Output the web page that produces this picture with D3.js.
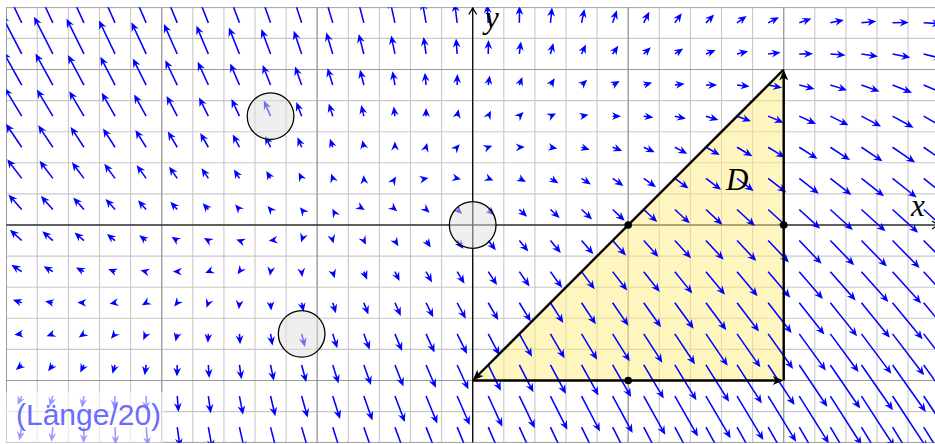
<!DOCTYPE html>
<html>
<head>
<meta charset="utf-8">
<script src="https://cdn.jsdelivr.net/npm/d3@7"></script>
<style>
  html, body { margin: 0; padding: 0; background: #fff; }
  svg { display: block; }
</style>
</head>
<body>
<div id="chart"></div>
<script>
// Field arrows: [x, y, P, Q] (P, Q = full vector, arrows are drawn at length/20)
const fieldSamples = [
  [0.1,1.3,0,2.1],[0.3,1.3,0,2.0],[0.5,1.3,0.2,2.0],[0.7,1.3,0.4,1.7],[0.9,1.3,0.64,1.5],[1.1,1.3,0.64,1.5],
  [1.3,1.3,0.86,1.3],[1.5,1.3,1.07,1.2],[1.7,1.3,1.2,0.99],[1.9,1.3,1.41,0.86],[2.1,1.3,1.63,0.69],
  [2.3,1.3,1.8,0.47],[2.5,1.3,1.84,0.43],[2.7,1.3,2.14,0.13],
  [-2.7,1.1,-2.57,4.72],[-2.3,1.1,-2.14,4.29],[-1.9,1.1,-1.71,3.94],[-1.3,1.1,-0.94,3.2],[-0.9,1.1,-0.86,2.79],
  [-0.5,1.1,-0.56,2.23],[-0.1,1.1,0,2.23],[0.1,1.1,0,1.93],[0.3,1.1,0,1.29],[0.5,1.1,0.2,1.3],[0.7,1.1,0.3,1.0],
  [0.9,1.1,0.64,1.07],[1.5,1.1,1.2,0.6],[1.7,1.1,1.41,0.34],[1.9,1.1,1.63,0.21],[2.1,1.1,1.93,0],
  [2.3,1.1,2.0,-0.09],[2.5,1.1,2.27,-0.21],[2.7,1.1,2.36,-0.43],
  [-2.7,0.9,-2.36,4.07],[-2.5,0.9,-2.14,3.86],[-2.3,0.9,-1.93,3.64],[-2.1,0.9,-1.71,3.43],[-1.9,0.9,-1.5,3.2],
  [-1.7,0.9,-1.29,3.0],[-1.5,0.9,-1.29,2.79],[-1.3,0.9,-0.86,2.57],[-1.1,0.9,-0.86,2.36],[-0.9,0.9,-0.64,2.14],
  [-0.7,0.9,-0.2,1.93],[-0.5,0.9,-0.2,1.93],[-0.3,0.9,0,1.71],[-0.1,0.9,0,1.5],[0.1,0.9,0,1.07],
  [0.9,0.9,-0.2,-0.2],[1.3,0.9,0.8,-0.1],[1.5,0.9,1.5,-0.2],[1.7,0.9,1.71,-0.34],[2.1,0.9,1.93,-0.43],
  [2.3,0.9,2.23,-0.64],[2.5,0.9,2.49,-0.86],[2.7,0.9,2.57,-0.99],
  [-2.7,0.7,-2.0,3.47],[-2.5,0.7,-1.71,3.26],[-2.3,0.7,-1.63,3.04],[-2.1,0.7,-1.33,2.83],[-1.9,0.7,-1.29,2.61],
  [-1.7,0.7,-1.11,2.53],[-1.5,0.7,-0.9,2.4],[-1.3,0.7,-0.64,1.97],[-1.1,0.7,-0.56,1.76],[-0.9,0.7,-0.26,1.76],
  [-0.7,0.7,-0.17,1.54],[-0.5,0.7,-0.13,1.41],[-0.3,0.7,-0.04,1.33],[-0.1,0.7,0.04,1.11],
  [0.9,0.7,0.86,-0.2],[1.1,0.7,1.07,-0.3],[1.3,0.7,1.07,-0.43],[1.5,0.7,1.71,-0.56],[1.7,0.7,1.71,-0.64],
  [1.9,0.7,1.84,-0.86],[2.1,0.7,2.14,-1.07],[2.3,0.7,2.44,-1.29],[2.5,0.7,2.7,-1.41],[2.7,0.7,2.79,-1.71],
  [-2.9,0.5,-1.93,2.79],[-2.7,0.5,-2.14,2.9],[-2.5,0.5,-1.71,2.66],[-2.3,0.5,-1.71,2.57],[-2.1,0.5,-1.5,2.36],
  [-1.9,0.5,-1.29,2.14],[-1.7,0.5,-1.07,1.93],[-1.5,0.5,-0.86,1.71],[-1.3,0.5,-0.56,1.29],[-1.1,0.5,-0.43,1.29],
  [-0.9,0.5,-0.2,1.07],[-0.7,0.5,-0.2,0.86],[-0.5,0.5,0,0.64],[-0.1,0.5,-0.4,0.2],
  [0.3,0.5,1.07,0],[0.5,0.5,1.07,-0.2],[0.7,0.5,1.07,-0.34],[0.9,0.5,1.07,-0.43],[1.1,0.5,1.5,-0.64],
  [1.3,0.5,1.5,-0.86],[1.5,0.5,1.71,-1.07],[1.7,0.5,1.93,-1.2],[1.9,0.5,2.36,-1.29],[2.1,0.5,2.36,-1.5],
  [2.3,0.5,2.36,-1.71],[2.5,0.5,2.79,-1.93],[2.7,0.5,3.0,-2.14],
  [-2.9,0.3,-1.93,2.36],[-0.1,0.3,1.07,0],[0.1,0.3,1.07,0],[0.3,0.3,0.86,-0.43],[0.5,0.3,1.07,-0.56],
  [0.7,0.3,1.29,-0.77],[0.9,0.3,1.5,-0.86],[1.1,0.3,1.71,-1.07],[1.3,0.3,1.93,-1.29],[1.5,0.3,1.93,-1.41],
  [1.7,0.3,2.14,-1.71],[1.9,0.3,2.57,-1.71],[2.1,0.3,2.36,-1.93],[2.3,0.3,2.57,-2.14],[2.5,0.3,2.79,-2.36],
  [2.7,0.3,3.0,-2.36],
  [-2.9,0.1,-1.71,1.84],[-2.7,0.1,-1.71,1.84],[-2.5,0.1,-1.5,1.5],[-2.3,0.1,-1.29,1.2],[-2.1,0.1,-1.07,0.86],
  [-1.9,0.1,-0.64,0.64],[0.3,0.1,1.07,-0.86],[0.5,0.1,1.07,-1.07],[0.7,0.1,1.29,-1.07],[0.9,0.1,1.71,-1.29],
  [1.1,0.1,1.71,-1.5],[1.9,0.1,2.79,-2.14],[2.7,0.1,3.2,-2.8],
  [-2.9,-0.1,-1.71,1.37],[-2.7,-0.1,-1.5,1.07],[-2.5,-0.1,-1.2,0.94],[-2.3,-0.1,-1.07,0.77],[-1.3,-0.1,-0.86,0],
  [0.1,-0.1,0.86,-1.07],[0.3,-0.1,1.29,-1.29],[0.5,-0.1,1.29,-1.5],[0.7,-0.1,1.5,-1.71],[0.9,-0.1,1.71,-1.71],
  [1.1,-0.1,1.71,-1.93],[1.3,-0.1,1.93,-1.93],[1.5,-0.1,2.14,-2.36],[1.7,-0.1,2.36,-2.57],[1.9,-0.1,2.79,-2.57],
  [2.1,-0.1,2.79,-3.0],[2.3,-0.1,3.0,-3.0],[2.5,-0.1,3.2,-3.2],[2.7,-0.1,3.43,-3.64],
  [-2.9,-0.3,-1.29,0.86],[-2.7,-0.3,-1.07,0.64],[-2.5,-0.3,-0.86,0.3],[-0.3,-0.3,0.64,-1.07],[-0.1,-0.3,0.64,-1.29],
  [0.1,-0.3,1.29,-1.71],[0.3,-0.3,1.5,-1.93],[0.5,-0.3,1.71,-2.36],[0.7,-0.3,1.71,-2.36],[0.9,-0.3,1.93,-2.57],
  [1.1,-0.3,2.14,-2.79],[1.3,-0.3,2.36,-3.0],[1.7,-0.3,2.57,-3.43],[2.3,-0.3,3.0,-3.86],
  [-2.9,-0.5,-1.29,0.43],[-2.7,-0.5,-1.07,0.2],[-2.5,-0.5,-0.64,0.1],[-1.1,-0.5,0.2,-1.5],[-0.9,-0.5,0.2,-1.29],
  [-0.7,-0.5,0.43,-1.5],[-0.5,-0.5,0.64,-1.71],[-0.3,-0.5,0.86,-1.93],[-0.1,-0.5,1.07,-2.14],[0.1,-0.5,1.5,-2.36],
  [0.5,-0.5,1.71,-2.57],[0.9,-0.5,2.36,-3.2],[1.3,-0.5,2.57,-3.43],[1.9,-0.5,3.2,-4.07],[2.3,-0.5,3.43,-4.5],
  [2.7,-0.5,3.64,-4.71],
  [-2.9,-0.7,-1.07,0],[-1.9,-0.7,0,-1.07],[-1.7,-0.7,0,-1.07],[-1.5,-0.7,0,-1.29],[-1.1,-0.7,0.43,-1.71],
  [-0.9,-0.7,0.64,-1.71],[-0.7,-0.7,0.64,-2.14],[-0.5,-0.7,0.86,-2.36],[-0.3,-0.7,1.07,-2.57],[-0.1,-0.7,1.2,-2.36],
  [0.1,-0.7,1.5,-2.79],[0.5,-0.7,1.93,-3.2],[0.9,-0.7,2.36,-3.64],[1.3,-0.7,2.79,-3.86],[1.9,-0.7,3.2,-4.71],
  [2.3,-0.7,3.64,-4.93],[2.7,-0.7,3.86,-5.36],
  [-2.3,-0.9,0,-1.07],[-2.1,-0.9,0,-1.29],[-1.9,-0.9,0.1,-1.5],[-1.7,-0.9,0.13,-1.6],[-1.5,-0.9,0.2,-1.8],
  [-1.3,-0.9,0.3,-2.2],[-1.1,-0.9,0.43,-2.2],[-0.9,-0.9,0.86,-2.44],[-0.7,-0.9,0.64,-2.66],[-0.5,-0.9,0.86,-2.66],
  [-0.3,-0.9,1.07,-2.66],[-0.1,-0.9,1.29,-2.66],[0.1,-0.9,1.71,-3.43],[0.5,-0.9,2.14,-3.73],[0.9,-0.9,2.57,-3.86],
  [1.3,-0.9,3.0,-4.37],[1.9,-0.9,3.64,-5.2],[2.3,-0.9,3.86,-5.66],[2.7,-0.9,4.07,-5.87],
  [-2.9,-1.1,-0.43,-1.07],[-2.5,-1.1,0,-1.07],[-2.3,-1.1,0,-1.46],[-1.9,-1.1,0.2,-2.1],[-1.7,-1.1,0.3,-2.36],
  [-1.5,-1.1,0.34,-2.53],[-1.3,-1.1,0.43,-2.74],[-1.1,-1.1,0.64,-2.96],[-0.9,-1.1,0.86,-3.2],[-0.7,-1.1,0.86,-3.4],
  [-0.5,-1.1,1.07,-3.4],[-0.3,-1.1,1.29,-3.8],[0.1,-1.1,1.93,-3.8],[0.5,-1.1,2.14,-4.24],[0.9,-1.1,2.57,-4.67],
  [1.3,-1.1,3.2,-5.1]
];

const circleCenters = [[-1.3, 0.7], [0, 0], [-1.1, -0.7]];
const circleRadius = 0.15;
const regionD = [[0, -1], [2, -1], [2, 1]];
const edgeMidpoints = [[1, 0], [2, 0], [1, -1]];
const lengthLabel = '(Länge/20)';
const arrowScale = 1 / 20;

const width = 935, height = 444;
const xScale = d3.scaleLinear([-3, 3], [6.2, 939.2]);
const yScale = d3.scaleLinear([-1.4, 1.4], [442.7, 7.3]);

// least squares fit of a cubic polynomial to the sampled arrows
const basis = (x, y) => [1, x, y, x * x, x * y, y * y, x * x * x, x * x * y, x * y * y, y * y * y];
function fitComponent(k) {
    const n = 10;
    const M = d3.range(n).map(() => new Array(n + 1).fill(0));
    fieldSamples.forEach(s => {
        const b = basis(s[0], s[1]);
        for (let i = 0; i < n; i++) {
            for (let j = 0; j < n; j++) M[i][j] += b[i] * b[j];
            M[i][n] += b[i] * s[k];
        }
    });
    for (let c = 0; c < n; c++) {
        let p = c;
        for (let r = c + 1; r < n; r++) if (Math.abs(M[r][c]) > Math.abs(M[p][c])) p = r;
        [M[c], M[p]] = [M[p], M[c]];
        for (let r = 0; r < n; r++) {
            if (r === c) continue;
            const f = M[r][c] / M[c][c];
            for (let j = c; j <= n; j++) M[r][j] -= f * M[c][j];
        }
    }
    return M.map((row, i) => row[n] / row[i]);
}
const coefP = fitComponent(2), coefQ = fitComponent(3);
const field = (x, y) => {
    const b = basis(x, y);
    return [d3.sum(b, (v, i) => v * coefP[i]), d3.sum(b, (v, i) => v * coefQ[i])];
};

// arrow head (stealth like) with tip at (x1, y1)
function headPath(x0, y0, x1, y1, len, hw, notch) {
    const dx = x1 - x0, dy = y1 - y0, L = Math.hypot(dx, dy);
    const ux = dx / L, uy = dy / L, px = -uy, py = ux;
    const bx = x1 - len * ux, by = y1 - len * uy;
    return `M${x1},${y1}L${bx + hw * px},${by + hw * py}L${x1 - notch * ux},${y1 - notch * uy}L${bx - hw * px},${by - hw * py}Z`;
}

const svg = d3.select('#chart').append('svg')
    .attr('width', width)
    .attr('height', height);

svg.append('defs').append('clipPath')
    .attr('id', 'plot-clip')
    .append('rect')
    .attr('x', xScale(-3)).attr('y', yScale(1.4))
    .attr('width', xScale(3) - xScale(-3))
    .attr('height', yScale(-1.4) - yScale(1.4));

const plot = svg.append('g').attr('clip-path', 'url(#plot-clip)');

// Grid
const minorX = d3.range(-15, 16).map(i => i / 5);
const minorY = d3.range(-7, 8).map(i => i / 5);
const grid = plot.append('g').attr('class', 'grid');
grid.selectAll('.vminor').data(minorX).enter().append('line')
    .attr('x1', d => xScale(d)).attr('x2', d => xScale(d))
    .attr('y1', yScale(1.4)).attr('y2', yScale(-1.4))
    .attr('stroke', '#c8c8c8').attr('stroke-width', 1.1);
grid.selectAll('.hminor').data(minorY).enter().append('line')
    .attr('y1', d => yScale(d)).attr('y2', d => yScale(d))
    .attr('x1', xScale(-3)).attr('x2', xScale(3))
    .attr('stroke', '#c8c8c8').attr('stroke-width', 1.1);
grid.selectAll('.vmajor').data(d3.range(-3, 4)).enter().append('line')
    .attr('x1', d => xScale(d)).attr('x2', d => xScale(d))
    .attr('y1', yScale(1.4)).attr('y2', yScale(-1.4))
    .attr('stroke', '#999').attr('stroke-width', 1.2);
grid.selectAll('.hmajor').data(d3.range(-1, 2)).enter().append('line')
    .attr('y1', d => yScale(d)).attr('y2', d => yScale(d))
    .attr('x1', xScale(-3)).attr('x2', xScale(3))
    .attr('stroke', '#999').attr('stroke-width', 1.2);
// frame
grid.append('rect')
    .attr('x', xScale(-3)).attr('y', yScale(1.4))
    .attr('width', xScale(3) - xScale(-3)).attr('height', yScale(-1.4) - yScale(1.4))
    .attr('fill', 'none').attr('stroke', '#999').attr('stroke-width', 1.6);

// Axes
const axes = plot.append('g').attr('stroke', '#000').attr('stroke-width', 1.2).attr('fill', 'none');
axes.append('line')
    .attr('x1', xScale(-3)).attr('x2', xScale(3) - 1)
    .attr('y1', yScale(0)).attr('y2', yScale(0));
axes.append('path')
    .attr('d', `M${xScale(3) - 7},${yScale(0) - 4}Q${xScale(3) - 3},${yScale(0) - 1} ${xScale(3) - 1},${yScale(0)}Q${xScale(3) - 3},${yScale(0) + 1} ${xScale(3) - 7},${yScale(0) + 4}`);
axes.append('line')
    .attr('x1', xScale(0)).attr('x2', xScale(0))
    .attr('y1', yScale(-1.4)).attr('y2', yScale(1.4) + 0.5);
axes.append('path')
    .attr('d', `M${xScale(0) - 4},${yScale(1.4) + 7}Q${xScale(0) - 1},${yScale(1.4) + 3} ${xScale(0)},${yScale(1.4) + 0.5}Q${xScale(0) + 1},${yScale(1.4) + 3} ${xScale(0) + 4},${yScale(1.4) + 7}`);

// Region D
plot.append('path')
    .attr('d', d3.line().x(d => xScale(d[0])).y(d => yScale(d[1]))(regionD) + 'Z')
    .attr('fill', '#ffee80')
    .attr('fill-opacity', 0.5);

// Vector field
const cellX = d3.range(-15, 15).map(i => (i + 0.5) / 5);
const cellY = d3.range(-7, 7).map(i => (i + 0.5) / 5);
const arrows = [];
cellY.forEach(y => cellX.forEach(x => {
    const [u, v] = field(x, y);
    arrows.push({ x0: xScale(x), y0: yScale(y), x1: xScale(x + u * arrowScale), y1: yScale(y + v * arrowScale) });
}));
const fieldGroup = plot.append('g').attr('class', 'field');
fieldGroup.selectAll('line').data(arrows.filter(a => Math.hypot(a.x1 - a.x0, a.y1 - a.y0) > 4)).enter().append('line')
    .attr('x1', d => d.x0).attr('y1', d => d.y0)
    .attr('x2', d => { const L = Math.hypot(d.x1 - d.x0, d.y1 - d.y0); return d.x1 - 4.5 * (d.x1 - d.x0) / L; })
    .attr('y2', d => { const L = Math.hypot(d.x1 - d.x0, d.y1 - d.y0); return d.y1 - 4.5 * (d.y1 - d.y0) / L; })
    .attr('stroke', '#0000ff').attr('stroke-width', 1.55);
fieldGroup.selectAll('path').data(arrows.filter(a => Math.hypot(a.x1 - a.x0, a.y1 - a.y0) > 0.01)).enter().append('path')
    .attr('d', d => headPath(d.x0, d.y0, d.x1, d.y1, 9, 3.9, 6))
    .attr('fill', '#0000ff');

// Boundary of D, each edge drawn as an arrow
const edges = plot.append('g').attr('class', 'boundary');
regionD.forEach((p, i) => {
    const q = regionD[(i + 1) % regionD.length];
    const x0 = xScale(p[0]), y0 = yScale(p[1]), x1 = xScale(q[0]), y1 = yScale(q[1]);
    const L = Math.hypot(x1 - x0, y1 - y0);
    edges.append('line')
        .attr('x1', x0).attr('y1', y0)
        .attr('x2', x1 - 6 * (x1 - x0) / L).attr('y2', y1 - 6 * (y1 - y0) / L)
        .attr('stroke', '#000').attr('stroke-width', 2.4);
    edges.append('path')
        .attr('d', headPath(x0, y0, x1, y1, 11, 4.5, 8))
        .attr('fill', '#000');
});
edges.selectAll('circle').data(edgeMidpoints).enter().append('circle')
    .attr('cx', d => xScale(d[0])).attr('cy', d => yScale(d[1]))
    .attr('r', 3.8).attr('fill', '#000');

// Sample circles
plot.append('g').selectAll('circle').data(circleCenters).enter().append('circle')
    .attr('cx', d => xScale(d[0])).attr('cy', d => yScale(d[1]))
    .attr('r', xScale(circleRadius) - xScale(0))
    .attr('fill', '#e0e0e0').attr('fill-opacity', 0.5)
    .attr('stroke', '#000').attr('stroke-width', 1.3);

// Labels
const labels = svg.append('g')
    .attr('font-family', '"Liberation Serif", "DejaVu Serif", serif')
    .attr('font-style', 'italic')
    .attr('font-size', 31)
    .attr('fill', '#000');
labels.append('text').attr('x', 485).attr('y', 28).text('y');
labels.append('text').attr('x', 911).attr('y', 216).text('x');
labels.append('text').attr('x', 726).attr('y', 190).text('D');

// Length note
svg.append('rect')
    .attr('x', xScale(-3)).attr('y', 392)
    .attr('width', 157).attr('height', yScale(-1.4) - 392)
    .attr('fill', '#fff').attr('fill-opacity', 0.6);
svg.append('text')
    .attr('x', 16).attr('y', 425)
    .attr('font-family', '"Liberation Sans", Arial, sans-serif')
    .attr('font-size', 30)
    .attr('fill', '#6b6bff')
    .text(lengthLabel);
</script>
</body>
</html>
